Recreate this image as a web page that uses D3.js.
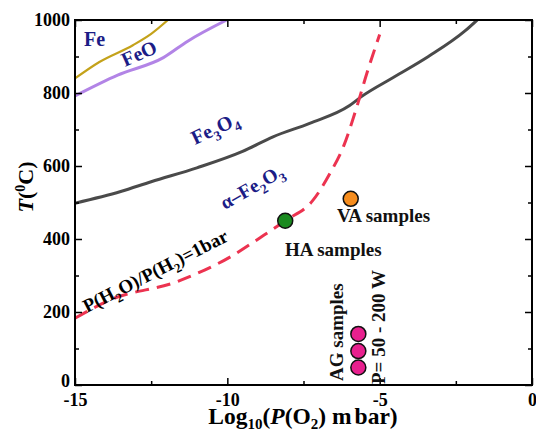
<!DOCTYPE html>
<html>
<head>
<meta charset="utf-8">
<script src="https://cdn.jsdelivr.net/npm/d3@7"></script>
<style>
  html, body { margin: 0; padding: 0; background: #fff; }
  svg { display: block; }
  text { font-family: "Liberation Serif", "Times New Roman", serif; font-weight: bold; }
</style>
</head>
<body>
<svg id="chart" width="536" height="433"></svg>
<script>
// Phase boundaries: [log10 P(O2) in mbar, temperature in °C]
const feBoundary = [[-15, 840], [-14.2, 885], [-13.1, 931], [-12.5, 962], [-11.95, 1000]];
const feoBoundary = [[-15, 792], [-13.6, 849], [-12.1, 897], [-11.3, 942], [-10.02, 1000]];
const fe3o4Boundary = [[-15, 498], [-13.5, 530], [-12.5, 557], [-11, 595], [-9.5, 640], [-8.5, 680],
  [-7.3, 717], [-6.0, 765], [-5.6, 790], [-4.5, 845], [-3.4, 900], [-2.2, 970], [-1.8, 1000]];
const h2oH2Line = [[-15, 183], [-13.85, 233], [-11.66, 283], [-9.8, 356], [-8.9, 405], [-8.1, 450],
  [-7.2, 505], [-6.63, 580], [-6.19, 653], [-5.75, 762], [-5.42, 854], [-5.0, 960]];

// Samples
const haSample = [[-8.1, 450]];
const vaSample = [[-5.95, 510]];
const agSamples = [[-5.7, 140], [-5.7, 93], [-5.7, 48]];

// Axis ticks
const xTicks = [-15, -10, -5, 0];
const xMinor = [-12.5, -7.5, -2.5];
const yTicks = [0, 200, 400, 600, 800, 1000];
const yMinor = [100, 300, 500, 700, 900];

const svg = d3.select("#chart");
const m = { left: 75, right: 532, top: 20, bottom: 385 };
const x = d3.scaleLinear().domain([-15, 0]).range([m.left, m.right]);
const y = d3.scaleLinear().domain([0, 1000]).range([m.bottom, m.top]);

const plot = svg.append("g");
plot.append("clipPath").attr("id", "clip")
  .append("rect").attr("x", m.left).attr("y", m.top)
  .attr("width", m.right - m.left).attr("height", m.bottom - m.top);

const line = d3.line().x(d => x(d[0])).y(d => y(d[1])).curve(d3.curveMonotoneX);
const curves = plot.append("g").attr("clip-path", "url(#clip)");

curves.append("path").datum(feBoundary).attr("d", line)
  .attr("fill", "none").attr("stroke", "#c4a21a").attr("stroke-width", 2.2);
curves.append("path").datum(feoBoundary).attr("d", line)
  .attr("fill", "none").attr("stroke", "#b284e6").attr("stroke-width", 3);
curves.append("path").datum(fe3o4Boundary).attr("d", line)
  .attr("fill", "none").attr("stroke", "#4a4a4a").attr("stroke-width", 3);
curves.append("path").datum(h2oH2Line).attr("d", line)
  .attr("fill", "none").attr("stroke", "#ec3350").attr("stroke-width", 3)
  .attr("stroke-dasharray", "14,8");

// Sample markers
function markers(data, color) {
  plot.selectAll(null).data(data).enter().append("circle")
    .attr("cx", d => x(d[0])).attr("cy", d => y(d[1])).attr("r", 7.5)
    .attr("fill", color).attr("stroke", "#111").attr("stroke-width", 1.5);
}
markers(haSample, "#1a8a1f");
markers(vaSample, "#f68d1e");
markers(agSamples, "#e8208e");

// Axes with inward ticks on all four sides
function axisGroup(axis, tx, ty) {
  const g = svg.append("g").attr("transform", `translate(${tx},${ty})`).call(axis);
  g.select(".domain").remove();
  g.selectAll("line").attr("stroke", "#000").attr("stroke-width", 1.5);
  return g;
}
const fmt = d => d3.format("d")(d).replace("−", "-");
const bx = axisGroup(d3.axisBottom(x).tickValues(xTicks).tickSizeInner(-7).tickSizeOuter(0).tickPadding(8).tickFormat(fmt), 0, m.bottom);
bx.selectAll("text").attr("font-size", 18).attr("fill", "#000").attr("dy", "0.71em");
axisGroup(d3.axisBottom(x).tickValues(xMinor).tickSizeInner(-4).tickSizeOuter(0).tickFormat(""), 0, m.bottom);
axisGroup(d3.axisTop(x).tickValues(xTicks).tickSizeInner(-7).tickSizeOuter(0).tickFormat(""), 0, m.top);
axisGroup(d3.axisTop(x).tickValues(xMinor).tickSizeInner(-4).tickSizeOuter(0).tickFormat(""), 0, m.top);

const ly = axisGroup(d3.axisLeft(y).tickValues(yTicks).tickSizeInner(-7).tickSizeOuter(0).tickPadding(5).tickFormat(d3.format("d")), m.left, 0);
ly.selectAll("text").attr("font-size", 18).attr("fill", "#000");
ly.selectAll(".tick").filter(d => d === 0).select("text").attr("dy", "0.1em");
axisGroup(d3.axisLeft(y).tickValues(yMinor).tickSizeInner(-4).tickSizeOuter(0).tickFormat(""), m.left, 0);
axisGroup(d3.axisRight(y).tickValues(yTicks).tickSizeInner(-7).tickSizeOuter(0).tickFormat(""), m.right, 0);
axisGroup(d3.axisRight(y).tickValues(yMinor).tickSizeInner(-4).tickSizeOuter(0).tickFormat(""), m.right, 0);

svg.append("rect").attr("x", m.left).attr("y", m.top)
  .attr("width", m.right - m.left).attr("height", m.bottom - m.top)
  .attr("fill", "none").attr("stroke", "#000").attr("stroke-width", 2);

// Phase labels
const navy = "#1c1c86";
function label(txt, px, py, angle, size, color) {
  const t = svg.append("text")
    .attr("transform", `translate(${px},${py}) rotate(${angle})`)
    .attr("font-size", size).attr("fill", color);
  txt.forEach(part => {
    const s = t.append("tspan").text(part[0]);
    if (part[1] === "sub") s.attr("font-size", size * 0.68).attr("dy", size * 0.28);
    if (part[1] === "up") s.attr("dy", -size * 0.28);
  });
  return t;
}
label([["Fe"]], 84, 46, 0, 20, navy);
label([["FeO"]], 125, 67, -24, 20, navy);
label([["Fe"], ["3", "sub"], ["O", "up"], ["4", "sub"]], 195, 145, -25, 20, navy);
label([["α–Fe"], ["2", "sub"], ["O", "up"], ["3", "sub"]], 225, 210, -30, 19.5, navy);
label([["P(H"], ["2", "sub"], ["O)/P(H", "up"], ["2", "sub"], [")=1bar", "up"]], 87, 313, -27, 19, "#000");

svg.append("text").attr("x", 337).attr("y", 222).attr("font-size", 19).attr("fill", "#111").text("VA samples");
svg.append("text").attr("x", 285).attr("y", 256).attr("font-size", 19).attr("fill", "#111").text("HA samples");
svg.append("text").attr("transform", "translate(343,381) rotate(-90)").attr("font-size", 19).attr("fill", "#111").text("AG samples");
svg.append("text").attr("transform", "translate(385,384) rotate(-90)").attr("font-size", 19).attr("fill", "#111").text("P= 50 - 200 W");

// Axis titles
const yt = svg.append("text").attr("transform", "translate(33,187) rotate(-90)")
  .attr("text-anchor", "middle").attr("font-size", 22).attr("fill", "#000");
yt.append("tspan").attr("font-style", "italic").text("T");
yt.append("tspan").text("(");
yt.append("tspan").attr("font-size", 14).attr("dy", -8).text("0");
yt.append("tspan").attr("dy", 8).text("C)");

const xt = svg.append("text").attr("x", 303).attr("y", 424)
  .attr("text-anchor", "middle").attr("font-size", 23.5).attr("fill", "#000");
xt.append("tspan").text("Log");
xt.append("tspan").attr("font-size", 15).attr("dy", 5).text("10");
xt.append("tspan").attr("dy", -5).text("(");
xt.append("tspan").attr("font-style", "italic").text("P");
xt.append("tspan").text("(O");
xt.append("tspan").attr("font-size", 15).attr("dy", 5).text("2");
xt.append("tspan").attr("dy", -5).text(") m");
xt.append("tspan").attr("dx", 3).text("bar)");
</script>
</body>
</html>
